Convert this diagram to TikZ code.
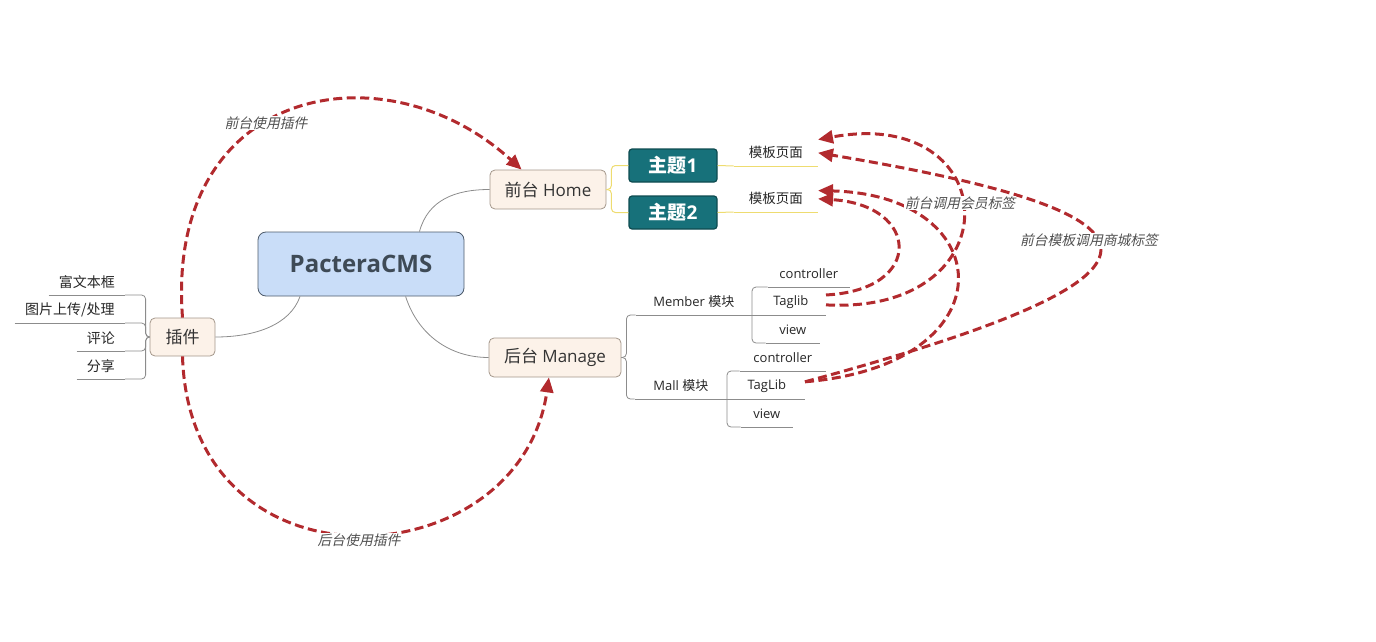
\documentclass[tikz,border=0pt]{standalone}
\usepackage{fontspec}
\setmainfont{Open Sans}
\newfontfamily\cjk{Noto Sans CJK SC}
\newfontfamily\cjkit[FakeSlant=0.22]{Noto Sans CJK SC}
\usetikzlibrary{arrows.meta}

\definecolor{cmsfill}{HTML}{C9DDF8}
\definecolor{cmsline}{HTML}{4D5B6B}
\definecolor{cmstext}{HTML}{3E4A56}
\definecolor{topicfill}{HTML}{FCF2E9}
\definecolor{topicline}{HTML}{A4978B}
\definecolor{themefill}{HTML}{17717A}
\definecolor{themeline}{HTML}{0E4B50}
\definecolor{branchgray}{HTML}{8C8C8C}
\definecolor{branchyellow}{HTML}{EEDC70}
\definecolor{relred}{HTML}{B22A2E}
\definecolor{labelgray}{HTML}{505050}

\tikzset{
  root/.style={draw=cmsline, fill=cmsfill, rounded corners=8pt, line width=0.8pt,
    minimum width=206pt, minimum height=64pt, text=cmstext,
    font=\fontsize{24}{28}\selectfont\bfseries},
  topic/.style={draw=topicline, fill=topicfill, rounded corners=5pt, line width=0.8pt,
    minimum height=39pt, text=black!80, font=\fontsize{17}{20}\selectfont},
  theme/.style={draw=themeline, fill=themefill, rounded corners=3pt, line width=1.2pt,
    minimum width=88pt, minimum height=33pt, text=white,
    font=\fontsize{19}{22}\selectfont\bfseries},
  leaf/.style={inner sep=0pt, minimum height=26pt, anchor=south east,
    text=black!85, font=\fontsize{13}{15}\selectfont},
  branch/.style={draw=branchgray, line width=0.8pt, rounded corners=4pt},
  subbranch/.style={draw=branchyellow, line width=1pt, rounded corners=4pt},
  relation/.style={draw=relred, line width=3pt, dash pattern=on 9pt off 4.5pt,
    -{Triangle[length=15pt,width=13pt]}},
  rellabel/.style={fill=white, inner sep=1pt, text=labelgray,
    font=\fontsize{13.8}{15}\selectfont\cjkit},
}

\begin{document}
\begin{tikzpicture}[x=1pt,y=-1pt]
\useasboundingbox (0,0) rectangle (1376,642);

% main topics
\node[root] (cms) at (361,264) {PacteraCMS};
\node[topic, minimum width=116pt] (home) at (548,189.5) {{\cjk 前台} Home};
\node[topic, minimum width=132pt] (man) at (555,357.5) {{\cjk 后台} Manage};
\node[topic, minimum width=65pt, minimum height=38pt,
  font=\fontsize{17}{20}\selectfont\cjk] (cj) at (182.5,337) {插件};

% themes
\node[theme] (zt1) at (673,165.5) {{\cjk 主题}1};
\node[theme] (zt2) at (673,212.5) {{\cjk 主题}2};
\node[leaf, minimum width=84pt, font=\fontsize{13.5}{15}\selectfont\cjk] (mb1) at (818,166) {模板页面};
\node[leaf, minimum width=84pt, font=\fontsize{13.5}{15}\selectfont\cjk] (mb2) at (818,212) {模板页面};

% plugins
\node[leaf, minimum width=76pt, font=\fontsize{14}{16}\selectfont\cjk] (fu) at (125,295) {富文本框};
\node[leaf, minimum width=110pt, font=\fontsize{14}{16}\selectfont\cjk] (tp) at (125,323) {图片上传/处理};
\node[leaf, minimum width=48pt, font=\fontsize{14}{16}\selectfont\cjk] (pl) at (125,351) {评论};
\node[leaf, minimum width=48pt, font=\fontsize{14}{16}\selectfont\cjk] (fx) at (125,379) {分享};

% manage modules
\node[leaf, minimum width=116pt] (mem) at (752,315) {Member {\cjk 模块}};
\node[leaf, minimum width=92pt] (mal) at (727,399) {Mall {\cjk 模块}};
\node[leaf, minimum width=82pt] (mc) at (850,287) {controller};
\node[leaf, minimum width=70pt] (mt) at (826,315) {Taglib};
\node[leaf, minimum width=54pt] (mv) at (820,343) {view};
\node[leaf, minimum width=86pt] (lc) at (826,371) {controller};
\node[leaf, minimum width=76pt] (lt) at (805,399) {TagLib};
\node[leaf, minimum width=52pt] (lv) at (793,427) {view};

% underlines
\foreach \n in {fu,tp,pl,fx,mem,mal,mc,mt,mv,lc,lt,lv}
  \draw[branch] (\n.south west) -- (\n.south east);
\foreach \n in {mb1,mb2}
  \draw[subbranch] (\n.south west) -- (\n.south east);

% branches
\draw[branch] (cms.208) .. controls (290,325) and (255,337) .. (cj.east);
\draw[branch] (cms.29) .. controls (428,200) and (455,189.5) .. (home.west);
\draw[branch] (cms.-36) .. controls (418,335) and (450,357.5) .. (man.west);
\foreach \n in {fu,tp,pl,fx}
  \draw[branch] (cj.west) -- ++(-4,0) |- (\n.south east);
\foreach \n in {mem,mal}
  \draw[branch] (man.east) -- ++(5,0) |- (\n.south west);
\foreach \n in {mc,mv}
  \draw[branch] (mem.south east) |- (\n.south west);
\draw[branch] (mem.south east) -- (mt.south west);
\foreach \n in {lc,lv}
  \draw[branch] (mal.south east) |- (\n.south west);
\draw[branch] (mal.south east) -- (lt.south west);
\foreach \n in {zt1,zt2}
  \draw[subbranch] (home.east) -- ++(5,0) |- (\n.west);
\draw[subbranch] (zt1.east) -- (mb1.south west);
\draw[subbranch] (zt2.east) -- (mb2.south west);

% relations
\draw[relation] (cj.north) .. controls (165,85) and (385,45) .. (home.143);
\draw[relation] (cj.south) .. controls (190,600) and (520,580) .. (man.253);
\draw[relation] (mt.11) .. controls (925,290) and (920,205) .. (mb2.east);
\draw[relation] (mt.-5) .. controls (1015,315) and (1005,105) .. (mb1.north east);
\draw[relation] (lt.6) .. controls (1010,365) and (1000,195) .. (mb2.11);
\draw[relation] (lt.6) .. controls (1200,275) and (1190,215) .. (mb1.east);

\node[rellabel] (l1) at (266,123) {前台使用插件};
\node[rellabel] (l2) at (359,540) {后台使用插件};
\node[rellabel] (l3) at (960,203) {前台调用会员标签};
\node[rellabel] (l4) at (1089,240) {前台模板调用商城标签};
\end{tikzpicture}
\end{document}
